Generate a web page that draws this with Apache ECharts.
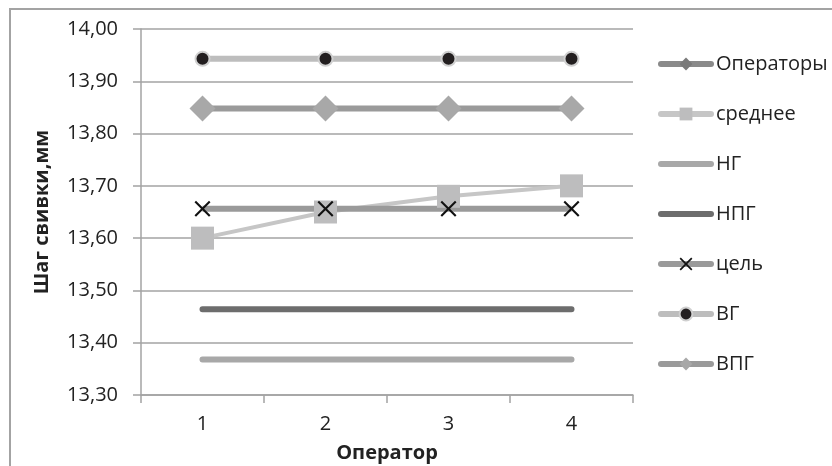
<!DOCTYPE html>
<html>
<head>
<meta charset="utf-8">
<script src="https://cdn.jsdelivr.net/npm/echarts@6/dist/echarts.min.js"></script>
<style>
html,body{margin:0;padding:0;background:#fff;}
#chart{width:832px;height:466px;}
</style>
</head>
<body>
<div id="chart"></div>
<script>
const categories = ['1', '2', '3', '4'];
const operatory = [null, null, null, null];
const srednee = [13.60, 13.65, 13.68, 13.70];
const ng = [13.368, 13.368, 13.368, 13.368];
const npg = [13.464, 13.464, 13.464, 13.464];
const cel = [13.656, 13.656, 13.656, 13.656];
const vg = [13.943, 13.943, 13.943, 13.943];
const vpg = [13.848, 13.848, 13.848, 13.848];
const yMin = 13.3, yMax = 14.0, yStep = 0.1;

const FONT = '"Open Sans", "Noto Sans", sans-serif';
const xPath = 'path://M0,1.5L1.5,0L8,6.5L14.5,0L16,1.5L9.5,8L16,14.5L14.5,16L8,9.5L1.5,16L0,14.5L6.5,8Z';
const noSym = {color: 'rgba(0,0,0,0)', borderWidth: 0, opacity: 0};

const chart = echarts.init(document.getElementById('chart'));
chart.setOption({
  backgroundColor: '#fff',
  animation: false,
  graphic: [{
    type: 'rect', shape: {x: 10, y: 9, width: 900, height: 600},
    style: {fill: 'none', stroke: '#a3a3a3', lineWidth: 2}, silent: true, z: -1
  }],
  grid: {left: 141, right: 199, top: 29, bottom: 71, outerBoundsMode: 'none', containLabel: false},
  legend: {
    orient: 'vertical', left: 653, top: 49,
    itemWidth: 50, itemHeight: 16, itemGap: 30,
    lineStyle: {width: 6, cap: 'round'},
    textStyle: {fontFamily: FONT, fontSize: 20, color: '#222', lineHeight: 20},
    data: [
      {name: 'Операторы'},
      {name: 'среднее'},
      {name: 'НГ', itemStyle: noSym},
      {name: 'НПГ', itemStyle: noSym},
      {name: 'цель'},
      {name: 'ВГ'},
      {name: 'ВПГ'}
    ]
  },
  xAxis: {
    type: 'category', data: categories, boundaryGap: true,
    axisLine: {lineStyle: {color: '#a3a3a3', width: 1.5}},
    axisTick: {show: true, length: 8, lineStyle: {color: '#a3a3a3', width: 1.5}},
    axisLabel: {fontFamily: FONT, fontSize: 20, color: '#222', margin: 19},
    splitLine: {show: false},
    name: 'Оператор', nameLocation: 'middle', nameGap: 48,
    nameTextStyle: {fontFamily: FONT, fontSize: 20, fontWeight: 'bold', color: '#222'}
  },
  yAxis: {
    type: 'value', min: yMin, max: yMax, interval: yStep,
    axisLine: {show: true, lineStyle: {color: '#a3a3a3', width: 1.5}},
    axisTick: {show: true, length: 8, lineStyle: {color: '#a3a3a3', width: 1.5}},
    axisLabel: {fontFamily: FONT, fontSize: 20, color: '#222', margin: 23,
      formatter: v => v.toFixed(2).replace('.', ',')},
    splitLine: {lineStyle: {color: '#a3a3a3', width: 1.5}},
    name: 'Шаг свивки,мм', nameLocation: 'middle', nameGap: 89, nameRotate: 90,
    nameTextStyle: {fontFamily: FONT, fontSize: 20, fontWeight: 'bold', color: '#222'}
  },
  series: [
    {name: 'Операторы', type: 'line', data: operatory, symbol: 'diamond', symbolSize: 14,
      lineStyle: {color: '#8a8a8a', width: 6}, itemStyle: {color: '#7a7a7a'}},
    {name: 'среднее', type: 'line', data: srednee, symbol: 'rect', symbolSize: 23,
      lineStyle: {color: '#c6c6c6', width: 4}, itemStyle: {color: '#bdbdbe'}},
    {name: 'НГ', type: 'line', data: ng, symbol: 'none',
      lineStyle: {color: '#a8a8a8', width: 6, cap: 'round'}, itemStyle: {color: '#a8a8a8'}},
    {name: 'НПГ', type: 'line', data: npg, symbol: 'none',
      lineStyle: {color: '#6d6d6d', width: 6, cap: 'round'}, itemStyle: {color: '#6d6d6d'}},
    {name: 'цель', type: 'line', data: cel, symbol: xPath, symbolSize: 16,
      lineStyle: {color: '#9a9a9a', width: 6}, itemStyle: {color: '#111'}},
    {name: 'ВГ', type: 'line', data: vg, symbol: 'circle', symbolSize: 14,
      lineStyle: {color: '#bdbdbd', width: 6},
      itemStyle: {color: '#231f20', borderColor: '#d0d0d0', borderWidth: 2}},
    {name: 'ВПГ', type: 'line', data: vpg, symbol: 'diamond', symbolSize: 26,
      lineStyle: {color: '#9a9a9a', width: 6}, itemStyle: {color: '#a8a8a8'}}
  ]
});
</script>
</body>
</html>
